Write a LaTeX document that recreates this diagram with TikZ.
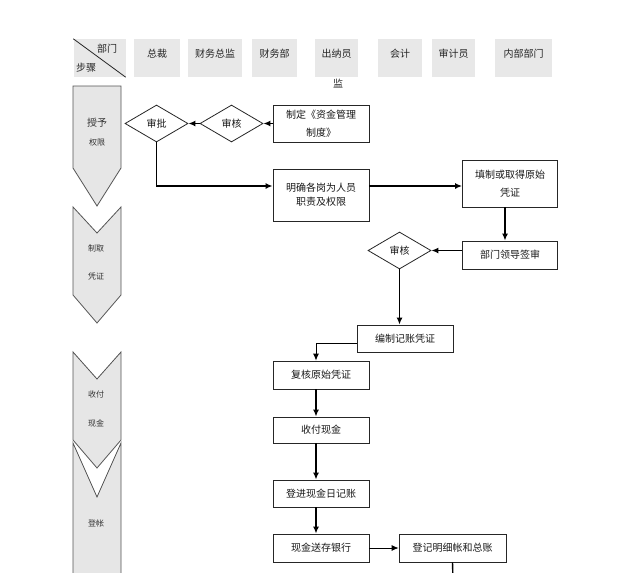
\documentclass[tikz,border=0pt]{standalone}
\usepackage{fontspec}
\setmainfont{Noto Sans CJK SC}
\usetikzlibrary{shapes.geometric,arrows.meta}
\definecolor{hdrgray}{HTML}{E8E8E8}
\definecolor{chevgray}{HTML}{E6E6E6}
\definecolor{edgegray}{HTML}{555555}
\begin{document}
\begin{tikzpicture}[x=1pt,y=-1pt,
  hdr/.style={fill=hdrgray, draw=none, inner sep=0pt},
  hdrtxt/.style={font=\fontsize{10}{12}\selectfont, text=black!85, inner sep=0pt},
  chev/.style={fill=chevgray, draw=edgegray, line width=0.8pt, line join=miter},
  chevtxt/.style={font=\fontsize{8}{10}\selectfont, text=black!80, inner sep=0pt},
  box/.style={draw=black!85, line width=0.8pt, fill=white, align=center,
    font=\fontsize{10}{18}\selectfont, text=black!90, inner sep=1pt},
  dia/.style={diamond, draw=black!85, line width=0.8pt, fill=white, inner sep=0pt,
    minimum width=63pt, minimum height=37pt, font=\fontsize{10}{12}\selectfont, text=black!90},
  arr/.style={line width=1.4pt, -{Latex[length=7pt,width=6pt]}},
  arrthin/.style={line width=0.8pt, -{Latex[length=7pt,width=6pt]}},
  plain/.style={line width=1.4pt}
]
\useasboundingbox (0,0) rectangle (640,573);
\fill[white] (0,0) rectangle (640,573);

% header cells
\node[hdr, minimum width=52pt, minimum height=38pt] (h0) at (99.5,58) {};
\draw[line width=0.8pt, black!85] (h0.north west) -- (h0.south east);
\node[hdrtxt] (h0a) at (107,49) {部门};
\node[hdrtxt] (h0b) at (86,68) {步骤};
\node[hdr, minimum width=46pt, minimum height=38pt] (h1) at (157,58) {};
\node[hdrtxt] (h1t) at (157,54) {总裁};
\node[hdr, minimum width=54pt, minimum height=38pt] (h2) at (215,58) {};
\node[hdrtxt] (h2t) at (215,54) {财务总监};
\node[hdr, minimum width=45pt, minimum height=38pt] (h3) at (274.5,58) {};
\node[hdrtxt] (h3t) at (274.5,54) {财务部};
\node[hdr, minimum width=43pt, minimum height=38pt] (h4) at (336.5,58) {};
\node[hdrtxt] (h4t) at (336.5,54) {出纳员};
\node[hdrtxt] (h4b) at (338,84) {监};
\node[hdr, minimum width=44pt, minimum height=38pt] (h5) at (400,58) {};
\node[hdrtxt] (h5t) at (400,54) {会计};
\node[hdr, minimum width=43pt, minimum height=38pt] (h6) at (453.5,58) {};
\node[hdrtxt] (h6t) at (453.5,54) {审计员};
\node[hdr, minimum width=57pt, minimum height=38pt] (h7) at (523.5,58) {};
\node[hdrtxt] (h7t) at (523.5,54) {内部部门};

% left chevrons
\filldraw[chev] (73,86) -- (121,86) -- (121,168) -- (97,206) -- (73,168) -- cycle;
\node[chevtxt, font=\fontsize{10}{12}\selectfont] (c1a) at (97,123) {授予};
\node[chevtxt] (c1b) at (97,142) {权限};
\filldraw[chev] (73,207) -- (97,233) -- (121,207) -- (121,295) -- (97,323) -- (73,295) -- cycle;
\node[chevtxt] (c2a) at (96,248) {制取};
\node[chevtxt] (c2b) at (96,276) {凭证};
\filldraw[chev] (73,352) -- (97,379) -- (121,352) -- (121,440) -- (97,468) -- (73,440) -- cycle;
\node[chevtxt] (c3a) at (96,394) {收付};
\node[chevtxt] (c3b) at (96,423) {现金};
\filldraw[chev] (121,580) -- (121,443) -- (97,497) -- (73,443) -- (73,580);
\node[chevtxt] (c4a) at (96,523) {登帐};

% flow nodes
\node[dia] (sp) at (156.5,123.5) {审批};
\node[dia] (sh1) at (231.5,123.5) {审核};
\node[box, minimum width=96pt, minimum height=37pt] (zd) at (321,123.5) {制定《资金管理\\制度》};
\node[box, minimum width=96pt, minimum height=52pt, font=\fontsize{10}{14}\selectfont] (mq) at (321,195) {明确各岗为人员\\职责及权限};
\node[box, minimum width=95pt, minimum height=47pt] (tz) at (510,183.5) {填制或取得原始\\凭证};
\node[box, minimum width=95pt, minimum height=28pt] (qs) at (510,255) {部门领导签审};
\node[dia] (sh2) at (399.5,250.5) {审核};
\node[box, minimum width=96pt, minimum height=27pt] (bz) at (405,338.5) {编制记账凭证};
\node[box, minimum width=96pt, minimum height=28pt] (fh) at (321,375) {复核原始凭证};
\node[box, minimum width=96pt, minimum height=26pt] (sf) at (321,430) {收付现金};
\node[box, minimum width=96pt, minimum height=27pt] (dj) at (321,493.5) {登进现金日记账};
\node[box, minimum width=96pt, minimum height=28pt] (sc) at (321,548) {现金送存银行};
\node[box, minimum width=107pt, minimum height=28pt] (mx) at (452.5,548) {登记明细帐和总账};
\coordinate (endpt) at (453,580);

% connectors
\draw[arr] (zd.west) -- (sh1.east);
\draw[arr] (sh1.west) -- (sp.east);
\draw[arr] (sp.south) |- ([yshift=9pt]mq.west);
\draw[arr] ([yshift=9pt]mq.east) -- ([yshift=9pt]mq.east -| tz.west);
\draw[arr] ([xshift=-5pt]tz.south) -- ([xshift=-5pt]qs.north);
\draw[arr] (qs.west |- sh2.east) -- (sh2.east);
\draw[arr] (sh2.south) -- (sh2.south |- bz.north);
\draw[line width=0.9pt, -{Latex[length=7pt,width=6pt]}] ([yshift=-4.5pt]bz.west) -| ([xshift=-5pt]fh.north);
\draw[arr] ([xshift=-5pt]fh.south) -- ([xshift=-5pt]sf.north);
\draw[arr] ([xshift=-5pt]sf.south) -- ([xshift=-5pt]dj.north);
\draw[arr] ([xshift=-5pt]dj.south) -- ([xshift=-5pt]sc.north);
\draw[arrthin] (sc.east) -- (mx.west);
\draw[plain] (mx.south) -- (endpt);
\end{tikzpicture}
\end{document}
